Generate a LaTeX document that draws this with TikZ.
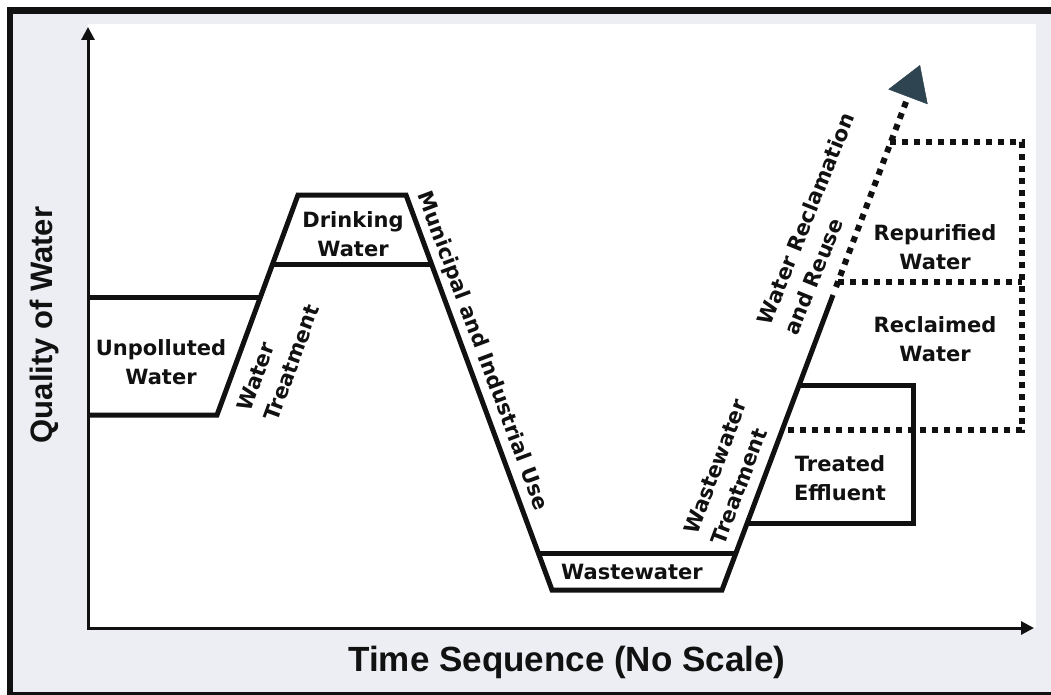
\documentclass[tikz,border=0pt]{standalone}
\usepackage{fontspec}
\setmainfont{DejaVu Sans}
\newfontfamily\axisfont{Liberation Sans}
\usetikzlibrary{arrows.meta}
\definecolor{bggrey}{HTML}{ECEEF4}
\definecolor{tipc}{HTML}{2E4450}
\definecolor{ink}{HTML}{111111}
\begin{document}
\begin{tikzpicture}[x=1pt,y=-1pt,
  thickline/.style={draw=ink,line width=5pt,line join=miter},
  dotline/.style={draw=ink,line width=6pt,dash pattern=on 6pt off 6pt},
  axisline/.style={draw=ink,line width=3pt,line join=miter,
    {Triangle[length=13pt,width=13pt]}-{Triangle[length=13pt,width=13pt]}},
  lab/.style={font=\fontsize{21}{29}\selectfont\bfseries,text=ink,inner sep=0pt,align=center},
  rlab/.style={lab,align=left},
  axlab/.style={text=ink,inner sep=0pt}]
\useasboundingbox (0,0) rectangle (1051,695);
% background and frame
\fill[white] (0,0) rectangle (1051,695);
\fill[bggrey] (7,7) rectangle (1051,695);
\fill[white] (88,24) rectangle (1036,628);
\fill[ink] (7,7) rectangle (1051,14);
\fill[ink] (7,7) rectangle (13,695);
\fill[ink] (7,692) rectangle (1051,695);
% axes
\coordinate (o) at (88,628);
\coordinate (ytip) at (88,27);
\coordinate (xtip) at (1034,628);
\draw[axisline] (ytip) -- (o) -- (xtip);
% main quality curve
\coordinate (u1) at (88,415);
\coordinate (u2) at (217,415);
\coordinate (d1) at (298,195);
\coordinate (d2) at (406,195);
\coordinate (w1) at (552,590);
\coordinate (w2) at (722,590);
\coordinate (r1) at (833,295);
\draw[thickline] (u1) -- (u2) -- (d1) -- (d2) -- (w1) -- (w2) -- (r1);
% level lines
\coordinate (ut1) at (88,297);
\coordinate (ut2) at (261,297);
\draw[thickline] (ut1) -- (ut2);
\coordinate (db1) at (273,264);
\coordinate (db2) at (431,264);
\draw[thickline] (db1) -- (db2);
\coordinate (wt1) at (538,553);
\coordinate (wt2) at (736,553);
\draw[thickline] (wt1) -- (wt2);
% treated effluent box
\coordinate (t1) at (746,523);
\coordinate (t2) at (913,523);
\coordinate (t3) at (913,385);
\coordinate (t4) at (799,385);
\draw[thickline] (t1) -- (t2) -- (t3) -- (t4);
% dotted reclaimed / repurified
\coordinate (m1) at (838,282);
\coordinate (m2) at (1022,282);
\draw[dotline] (m1) -- (m2);
\coordinate (p1) at (890,142);
\coordinate (p2) at (1022,142);
\coordinate (p3) at (1022,430);
\coordinate (p4) at (782,430);
\draw[dotline] (p1) -- (p2) -- (p3) -- (p4);
\coordinate (a1) at (836,287);
\coordinate (atip) at (920,65);
\draw[dotline,-{Triangle[length=34pt,width=42pt,line width=0.5pt,color=tipc]}] (a1) -- (atip);
% labels
\node[lab] (unp) at (161,362) {Unpolluted\\Water};
\node[lab] (drk) at (353,234) {Drinking\\Water};
\node[lab] (wst) at (632,572) {Wastewater};
\node[lab] (tre) at (840,478) {Treated\\Effluent};
\node[lab] (rep) at (935,247) {Repurified\\Water};
\node[lab] (rec) at (935,339) {Reclaimed\\Water};
\node[rlab,rotate=70] (wtr) at (278,358) {Water\\Treatment};
\node[lab,rotate=-69.5] (mun) at (482,351) {Municipal and Industrial Use};
\node[rlab,rotate=69.4] (wwt) at (729,472) {Wastewater\\Treatment};
\node[rlab,rotate=68] (wrr) at (819,224) {Water Reclamation\\and Reuse};
\node[axlab,font=\axisfont\bfseries\fontsize{35}{40}\selectfont] (xlab) at (567,662) {Time Sequence (No Scale)};
\node[axlab,font=\axisfont\bfseries\fontsize{31}{36}\selectfont,rotate=90] (ylab) at (44,325) {Quality of Water};
\end{tikzpicture}
\end{document}
